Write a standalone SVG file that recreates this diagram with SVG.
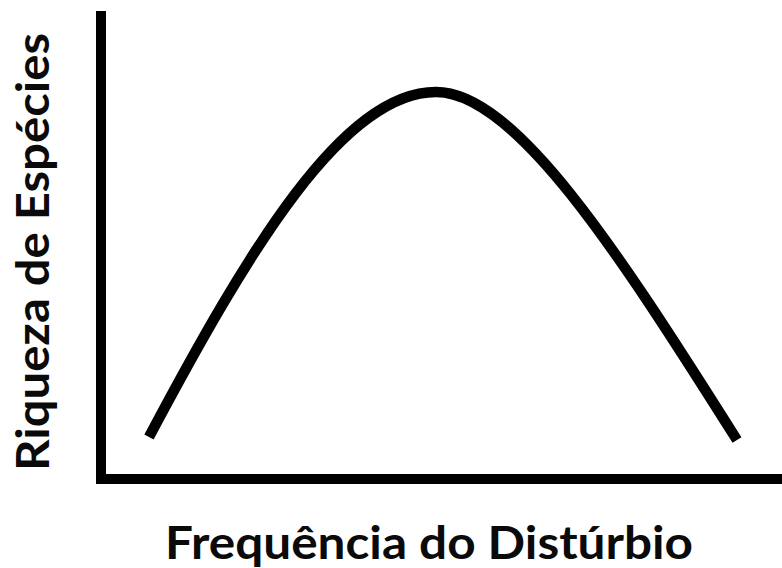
<svg xmlns="http://www.w3.org/2000/svg" width="782" height="568" viewBox="0 0 782 568">
<style>
.t{font-family:"Lato","Open Sans","DejaVu Sans",sans-serif;font-weight:700;font-size:45px;fill:#0a0a0a}
.a{fill:none;stroke:#000;stroke-width:10}
.c{fill:none;stroke:#000;stroke-width:10.5}
</style>
<rect width="782" height="568" fill="#fff"/>
<g id="axes"><path class="a" d="M101 11V479H782M96 479H101"/></g>
<g id="connectors"><path class="c" d="M149 437C249 249 343 92 436 92C515 92 617 250 737 440"/></g>
<g id="labels">
<text class="t" x="165" y="559" textLength="528" lengthAdjust="spacingAndGlyphs">Frequência do Distúrbio</text>
<text class="t" transform="translate(49,471) rotate(-90)" textLength="438" lengthAdjust="spacingAndGlyphs">Riqueza de Espécies</text>
</g>
</svg>
